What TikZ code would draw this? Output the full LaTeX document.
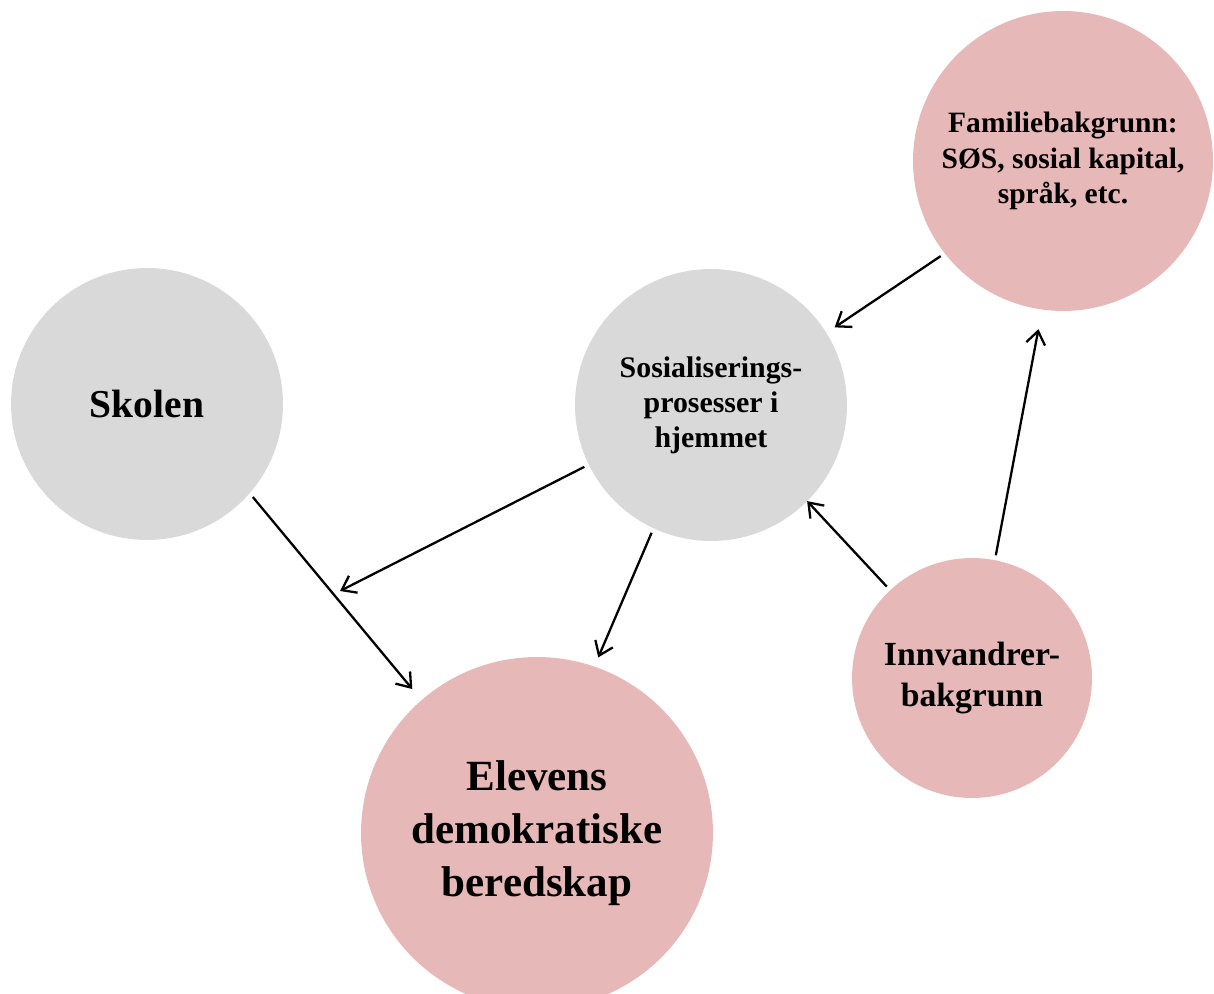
\documentclass[tikz,border=0pt]{standalone}
\usepackage{fontspec}
\setmainfont{Liberation Serif}
\usetikzlibrary{arrows.meta}
\definecolor{cgray}{HTML}{D9D9D9}
\definecolor{cpink}{HTML}{E6B8B7}
\tikzset{
  bubble/.style={circle, inner sep=0pt, outer sep=0pt, align=center, font=\bfseries},
  grayb/.style={bubble, fill=cgray},
  pinkb/.style={bubble, fill=cpink},
  conn/.style={line width=1.3pt, -{Straight Barb[length=2.6mm, width=3.8mm, line width=1.3pt]}, shorten <=0.1cm},
}
\begin{document}
\begin{tikzpicture}[x=0.02cm, y=0.02cm]
\useasboundingbox (0,0) rectangle (1214,994);
\clip (0,0) rectangle (1214,994);
\node[grayb, minimum size=5.44cm, font=\bfseries\fontsize{22.5}{26}\selectfont] (skolen) at (147,590) {Skolen};
\node[grayb, minimum size=5.44cm, font=\bfseries\fontsize{17}{20}\selectfont] (sos) at (711,589) {Sosialiserings-\\prosesser i\\hjemmet};
\node[pinkb, minimum size=6cm, font=\bfseries\fontsize{16.8}{20}\selectfont] (fam) at (1063,833) {Familiebakgrunn:\\SØS, sosial kapital,\\språk, etc.};
\node[pinkb, minimum size=4.8cm, font=\bfseries\fontsize{19.2}{23.7}\selectfont] (innv) at (972,316) {Innvandrer-\\bakgrunn};
\node[pinkb, minimum size=7.04cm, font=\bfseries\fontsize{24.5}{30}\selectfont] (elev) at (537,161) {Elevens\\demokratiske\\beredskap};
\coordinate (mod) at (340,403);
\draw[conn, shorten >=0.2cm] (fam.218) -- (sos.32);
\draw[conn, shorten >=0.29cm] (skolen.-41.5) -- (elev.131.8);
\draw[conn] (sos.206.7) -- (mod);
\draw[conn, shorten >=0.2cm] (sos.245.5) -- (elev.71.2);
\draw[conn] (innv.133) -- (sos.-45.9);
\draw[conn, shorten >=0.4cm] (innv.79) -- (fam.262.2);
\end{tikzpicture}
\end{document}
